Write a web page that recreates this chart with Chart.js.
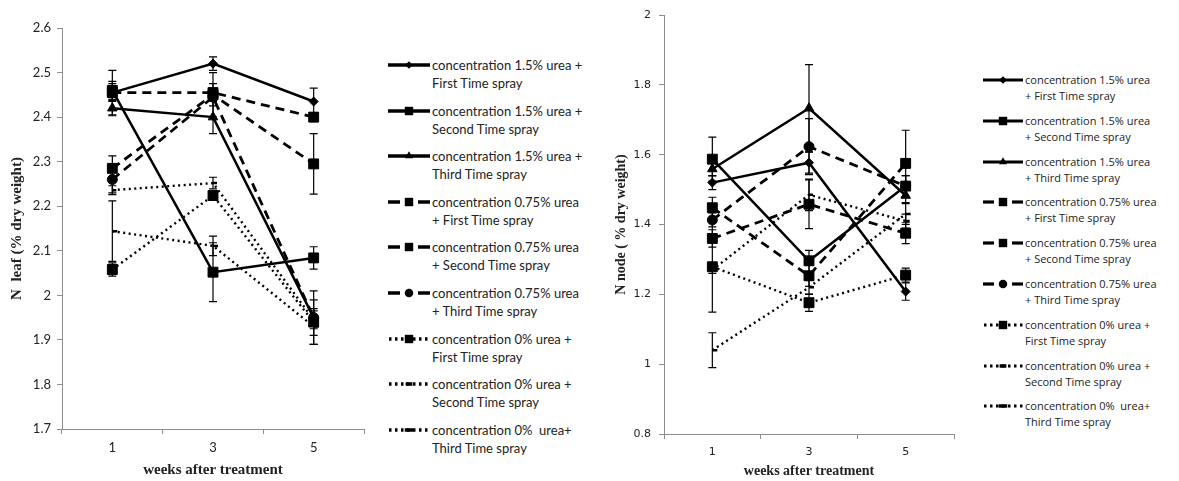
<!DOCTYPE html>
<html><head><meta charset="utf-8">
<script src="https://cdn.jsdelivr.net/npm/chart.js@4.4.0/dist/chart.umd.min.js"></script>
<style>
html,body{margin:0;padding:0;background:#fff;}
body{width:1179px;height:481px;position:relative;overflow:hidden;}
.box{position:absolute;}
.leg{position:absolute;color:#222;white-space:nowrap;}
svg.sample{position:absolute;overflow:visible;}
</style></head><body>
<div class="box" style="left:0;top:0;width:372px;height:481px"><canvas id="leaf"></canvas></div>
<div class="box" style="left:590px;top:0;width:372px;height:481px"><canvas id="node"></canvas></div>
<div id="legLeft"></div><div id="legRight"></div>
<script>
// ---------- DATA ----------
const weeks = ['1', '3', '5'];

// N leaf (% dry weight)
const leaf15First  = [2.455, 2.520, 2.435];
const leaf15Second = [2.460, 2.052, 2.084];
const leaf15Third  = [2.420, 2.400, 1.950];
const leaf075First  = [2.455, 2.455, 2.400];
const leaf075Second = [2.285, 2.450, 2.295];
const leaf075Third  = [2.260, 2.445, 1.950];
const leaf0First  = [2.058, 2.224, 1.940];
const leaf0Second = [2.236, 2.252, 1.945];
const leaf0Third  = [2.144, 2.111, 1.930];
const leafErr15First  = [0.050, 0.015, 0.030];
const leafErr15Second = [0.020, 0.066, 0.025];
const leafErr15Third  = [0.017, 0.037, 0.020];
const leafErr075First  = [0.020, 0.020, 0.010];
const leafErr075Second = [0.028, 0.050, 0.068];
const leafErr075Third  = [0.030, 0.020, 0.060];
const leafErr0First  = [0.015, 0.010, 0.050];
const leafErr0Second = [0.010, 0.013, 0.020];
const leafErr0Third  = [0.068, 0.022, 0.020];

// N node (% dry weight)
const node15First  = [1.520, 1.577, 1.208];
const node15Second = [1.587, 1.296, 1.510];
const node15Third  = [1.559, 1.733, 1.483];
const node075First  = [1.448, 1.253, 1.575];
const node075Second = [1.360, 1.458, 1.375];
const node075Third  = [1.413, 1.623, 1.510];
const node0First  = [1.279, 1.176, 1.255];
const node0Second = [1.270, 1.485, 1.410];
const node0Third  = [1.040, 1.220, 1.430];
const nodeErr15First  = [0.020, 0.030, 0.025];
const nodeErr15Second = [0.063, 0.030, 0.030];
const nodeErr15Third  = [0.020, 0.125, 0.020];
const nodeErr075First  = [0.030, 0.030, 0.095];
const nodeErr075Second = [0.025, 0.070, 0.030];
const nodeErr075Third  = [0.020, 0.080, 0.030];
const nodeErr0First  = [0.130, 0.025, 0.020];
const nodeErr0Second = [0.010, 0.045, 0.020];
const nodeErr0Third  = [0.050, 0.020, 0.030];

const leafTickLabels = ['1.7','1.8','1.9','2','2.1','2.2','2.3','2.4','2.5','2.6'];
const nodeTickLabels = ['0.8','1','1.2','1.4','1.6','1.8','2'];

const leafLegend = [
  ['concentration 1.5% urea +', 'First Time spray'],
  ['concentration 1.5% urea +', 'Second Time spray'],
  ['concentration 1.5% urea +', 'Third Time spray'],
  ['concentration 0.75% urea', '+ First Time spray'],
  ['concentration 0.75% urea', '+ Second Time spray'],
  ['concentration 0.75% urea', '+ Third Time spray'],
  ['concentration 0% urea +', 'First Time spray'],
  ['concentration 0% urea +', 'Second Time spray'],
  ['concentration 0%&nbsp; urea+', 'Third Time spray']
];
const nodeLegend = [
  ['concentration 1.5% urea', '+ First Time spray'],
  ['concentration 1.5% urea', '+ Second Time spray'],
  ['concentration 1.5% urea', '+ Third Time spray'],
  ['concentration 0.75% urea', '+ First Time spray'],
  ['concentration 0.75% urea', '+ Second Time spray'],
  ['concentration 0.75% urea', '+ Third Time spray'],
  ['concentration 0% urea +', 'First Time spray'],
  ['concentration 0% urea +', 'Second Time spray'],
  ['concentration 0%&nbsp; urea+', 'Third Time spray']
];

// ---------- STYLES ----------
const SOLID = [], DASH = [9, 6], DOT = [2, 3.5];
const styles = [
  {dash: SOLID, w: 2.5, pt: 'rectRot', r: 4.5},
  {dash: SOLID, w: 2.5, pt: 'rect', r: 7},
  {dash: SOLID, w: 2.5, pt: 'triangle', r: 5.5},
  {dash: DASH, w: 2.8, pt: 'rect', r: 7},
  {dash: DASH, w: 2.8, pt: 'rect', r: 7},
  {dash: DASH, w: 2.8, pt: 'circle', r: 5},
  {dash: DOT, w: 2.4, pt: 'rect', r: 7},
  {dash: DOT, w: 2.4, pt: 'dash', r: 4},
  {dash: DOT, w: 2.4, pt: 'dash', r: 5}
];

const leafSeries = [leaf15First, leaf15Second, leaf15Third, leaf075First, leaf075Second, leaf075Third, leaf0First, leaf0Second, leaf0Third];
const leafErrs = [leafErr15First, leafErr15Second, leafErr15Third, leafErr075First, leafErr075Second, leafErr075Third, leafErr0First, leafErr0Second, leafErr0Third];
const nodeSeries = [node15First, node15Second, node15Third, node075First, node075Second, node075Third, node0First, node0Second, node0Third];
const nodeErrs = [nodeErr15First, nodeErr15Second, nodeErr15Third, nodeErr075First, nodeErr075Second, nodeErr075Third, nodeErr0First, nodeErr0Second, nodeErr0Third];

const errorBars = {
  id: 'errorBars',
  afterDatasetsDraw(chart) {
    const ctx = chart.ctx, ys = chart.scales.y;
    chart.data.datasets.forEach((ds, di) => {
      const meta = chart.getDatasetMeta(di);
      (ds.errors || []).forEach((e, i) => {
        if (!e) return;
        const p = meta.data[i], v = ds.data[i];
        const t = ys.getPixelForValue(v + e), b = ys.getPixelForValue(v - e);
        ctx.save();
        ctx.strokeStyle = '#000'; ctx.lineWidth = 1.2; ctx.setLineDash([]);
        ctx.beginPath();
        ctx.moveTo(p.x, t); ctx.lineTo(p.x, b);
        ctx.moveTo(p.x - 4, t); ctx.lineTo(p.x + 4, t);
        ctx.moveTo(p.x - 4, b); ctx.lineTo(p.x + 4, b);
        ctx.stroke(); ctx.restore();
      });
    });
  }
};

function datasets(series, errs, labels) {
  return series.map((d, i) => ({
    label: labels[i].join(' ').replace('&nbsp;', ' '),
    data: d,
    errors: errs[i],
    borderColor: '#000',
    backgroundColor: '#000',
    borderWidth: styles[i].w,
    borderDash: styles[i].dash,
    pointStyle: styles[i].pt,
    pointRadius: styles[i].r,
    pointBorderWidth: styles[i].pt === 'dash' ? 2.5 : 1,
    pointBackgroundColor: '#000',
    pointBorderColor: '#000',
    tension: 0,
    fill: false
  }));
}

function makeChart(id, series, errs, labels, cfg) {
  return new Chart(document.getElementById(id), {
    type: 'line',
    data: {labels: weeks, datasets: datasets(series, errs, labels)},
    options: {
      responsive: true, maintainAspectRatio: false, animation: false,
      layout: {padding: {left: 0, right: 4, top: cfg.top, bottom: 0}},
      plugins: {legend: {display: false}, tooltip: {enabled: false}},
      scales: {
        x: {
          type: 'category', offset: true,
          grid: {offset: true, drawOnChartArea: false, drawTicks: true, tickLength: 5, color: '#8c8c8c'},
          border: {display: true, color: '#8c8c8c', width: 1},
          ticks: {color: '#222', padding: cfg.xPad, font: cfg.tickFont},
          title: {display: true, text: 'weeks after treatment', color: '#222',
                  font: {family: 'Liberation Serif', weight: 'bold', size: cfg.titleSize}, padding: {top: 0, bottom: cfg.xTitlePad}},
          afterFit(s) { s.height = cfg.xH; }
        },
        y: {
          min: cfg.min, max: cfg.max,
          grid: {drawOnChartArea: false, drawTicks: true, tickLength: 5, color: '#8c8c8c'},
          border: {display: true, color: '#8c8c8c', width: 1},
          ticks: {stepSize: cfg.step, color: '#222', padding: cfg.yPad, font: cfg.tickFont,
                  callback: (v, i) => cfg.tickLabels[i]},
          title: {display: true, text: cfg.yTitle, color: '#222',
                  font: {family: 'Liberation Serif', weight: 'bold', size: cfg.yTitleSize}, padding: {top: cfg.yTitlePad, bottom: 0}},
          afterFit(s) { s.width = cfg.yW; }
        }
      }
    },
    plugins: [errorBars]
  });
}

makeChart('leaf', leafSeries, leafErrs, leafLegend, {
  top: 28, xH: 52, yW: 62, min: 1.7, max: 2.6, step: 0.1, tickLabels: leafTickLabels,
  tickFont: {family: 'Lato', size: 13}, xPad: 6, yPad: 6, titleSize: 15, xTitlePad: 2,
  yTitle: 'N  leaf (% dry weight)', yTitleSize: 15, yTitlePad: 8
});
makeChart('node', nodeSeries, nodeErrs, nodeLegend, {
  top: 15, xH: 47, yW: 74, min: 0.8, max: 2, step: 0.2, tickLabels: nodeTickLabels,
  tickFont: {family: 'DejaVu Sans', size: 11}, xPad: 7, yPad: 8, titleSize: 14, xTitlePad: 1,
  yTitle: 'N node ( % dry weight)', yTitleSize: 14, yTitlePad: 23
});

// ---------- HTML LEGENDS ----------
function markerSVG(st, cx, cy, s) {
  const r = st.r * s;
  switch (st.pt) {
    case 'rect': { const h = r * Math.SQRT1_2; return `<rect x="${cx-h}" y="${cy-h}" width="${2*h}" height="${2*h}" fill="#000"/>`; }
    case 'rectRot': return `<polygon points="${cx},${cy-r} ${cx+r},${cy} ${cx},${cy+r} ${cx-r},${cy}" fill="#000"/>`;
    case 'triangle': return `<polygon points="${cx},${cy-r} ${cx+r*0.87},${cy+r*0.5} ${cx-r*0.87},${cy+r*0.5}" fill="#000"/>`;
    case 'circle': return `<circle cx="${cx}" cy="${cy}" r="${r}" fill="#000"/>`;
    case 'dash': return `<line x1="${cx-r}" y1="${cy}" x2="${cx+r}" y2="${cy}" stroke="#000" stroke-width="3.5"/>`;
  }
  return '';
}
function buildLegend(el, labels, o) {
  let html = '';
  labels.forEach((lines, i) => {
    const st = styles[i];
    const y = o.y0 + i * o.dy;
    const c = o.sw / 2;
    let lineSvg;
    if (st.dash === DASH) {
      lineSvg = `<line x1="0" y1="8" x2="${c - 9}" y2="8" stroke="#000" stroke-width="${o.lw}"/>` +
                `<line x1="${c + 9}" y1="8" x2="${o.sw}" y2="8" stroke="#000" stroke-width="${o.lw}"/>`;
    } else if (st.dash === DOT) {
      lineSvg = `<line x1="1" y1="8" x2="${o.sw}" y2="8" stroke="#000" stroke-width="${o.lw}" stroke-dasharray="2.5,3.5"/>`;
    } else {
      lineSvg = `<line x1="0" y1="8" x2="${o.sw}" y2="8" stroke="#000" stroke-width="${o.lw}"/>`;
    }
    html += `<svg class="sample" style="left:${o.sx}px;top:${y - 8}px" width="${o.sw}" height="16">` +
      lineSvg + `${markerSVG(st, c, 8, 0.85)}</svg>`;
    html += `<div class="leg" style="left:${o.tx}px;top:${y - o.lh / 2}px;font-family:${o.family};font-size:${o.size}px;line-height:${o.lh}px">${lines[0]}<br>${lines[1]}</div>`;
  });
  el.innerHTML = html;
}
buildLegend(document.getElementById('legLeft'), leafLegend,
  {y0: 65, dy: 45.6, sx: 388, sw: 42, tx: 432, lw: 3.5, lh: 18, family: "Lato", size: 13});
buildLegend(document.getElementById('legRight'), nodeLegend,
  {y0: 80, dy: 40.8, sx: 983, sw: 40, tx: 1025, lw: 3.2, lh: 16, family: "'Open Sans'", size: 11});
</script>
</body></html>
